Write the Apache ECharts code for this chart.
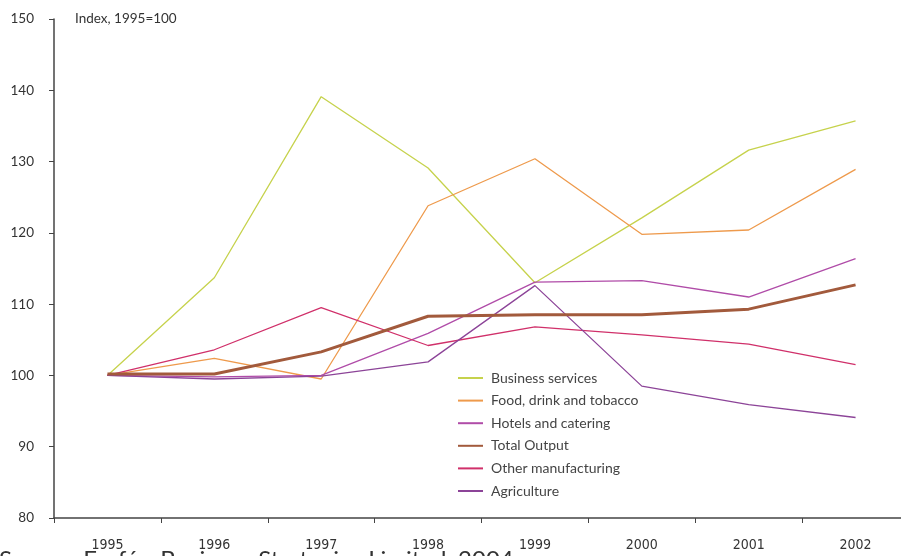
<!DOCTYPE html>
<html>
<head>
<meta charset="utf-8">
<script src="https://cdn.jsdelivr.net/npm/echarts@6/dist/echarts.min.js"></script>
<style>
  html, body { margin: 0; padding: 0; background: #fff; }
  #chart { width: 901px; height: 556px; }
</style>
</head>
<body>
<div id="chart"></div>
<script>
// 数据
var years = ['1995', '1996', '1997', '1998', '1999', '2000', '2001', '2002'];
var businessServices = [100, 113.7, 139.1, 129.1, 113.0, 122.1, 131.6, 135.7];
var foodDrinkTobacco = [100, 102.4, 99.5, 123.8, 130.4, 119.8, 120.4, 128.9];
var hotelsCatering = [100, 99.8, 100.0, 105.9, 113.1, 113.3, 111.0, 116.4];
var totalOutput = [100.2, 100.2, 103.3, 108.3, 108.5, 108.5, 109.3, 112.7];
var otherManufacturing = [100, 103.6, 109.5, 104.2, 106.8, 105.7, 104.4, 101.5];
var agriculture = [100, 99.5, 99.9, 101.9, 112.6, 98.5, 95.9, 94.1];
var yTicks = [80, 90, 100, 110, 120, 130, 140, 150];

var chartDom = document.getElementById('chart');
var myChart = echarts.init(chartDom);

function line(name, data, color, width) {
  return {
    name: name,
    type: 'line',
    data: data,
    symbol: 'none',
    lineStyle: { color: color, width: width },
    itemStyle: { color: color },
    emphasis: { disabled: true }
  };
}

var option = {
  animation: false,
  backgroundColor: '#fff',
  // 网格故意超出右边界，最后一个刻度落在画布外
  grid: { left: 54, width: 855, top: 19, bottom: 38, outerBoundsMode: 'none' },
  legend: {
    orient: 'vertical',
    left: 457,
    top: 371,
    padding: 0,
    itemWidth: 25,
    itemHeight: 14,
    itemGap: 8.6,
    itemStyle: { color: 'rgba(0,0,0,0)', borderWidth: 0, opacity: 0 },
    textStyle: { fontFamily: 'Lato', fontSize: 14, color: '#444', padding: [0, 0, 0, 3] },
    data: ['Business services', 'Food, drink and tobacco', 'Hotels and catering',
      'Total Output', 'Other manufacturing', 'Agriculture']
  },
  xAxis: {
    type: 'category',
    data: years,
    boundaryGap: true,
    axisLine: { lineStyle: { color: '#444', width: 1.5 } },
    axisTick: { show: true, length: 5, lineStyle: { color: '#444' } },
    axisLabel: {
      margin: 20,
      color: '#333',
      fontSize: 14,
      fontFamily: 'DejaVu Sans Condensed'
    },
    splitLine: { show: false }
  },
  yAxis: {
    type: 'value',
    min: yTicks[0],
    max: yTicks[yTicks.length - 1],
    interval: 10,
    axisLine: { show: true, lineStyle: { color: '#444', width: 1.5 } },
    axisTick: { show: true, length: 5, lineStyle: { color: '#444' } },
    axisLabel: { margin: 20, color: '#333', fontSize: 13.5, fontFamily: 'Lato' },
    splitLine: { show: false }
  },
  graphic: [
    {
      type: 'text',
      left: 75,
      top: 12,
      style: { text: 'Index, 1995=100', fontFamily: 'Lato', fontSize: 13.5, fill: '#333' }
    },
    {
      type: 'text',
      left: -1,
      top: 548,
      style: {
        text: 'Source: Forfás, Business Strategies Limited, 2004',
        fontFamily: 'Lato', fontSize: 24, fill: '#333'
      }
    }
  ],
  series: [
    line('Business services', businessServices, '#c6d24c', 1.3),
    line('Food, drink and tobacco', foodDrinkTobacco, '#ee9a4c', 1.3),
    line('Hotels and catering', hotelsCatering, '#b04ca8', 1.3),
    line('Other manufacturing', otherManufacturing, '#d0306a', 1.3),
    line('Agriculture', agriculture, '#8c4498', 1.3),
    line('Total Output', totalOutput, '#a25a3c', 3)
  ]
};

myChart.setOption(option);

window.addEventListener('resize', function () {
  myChart.resize();
});
</script>
</body>
</html>
